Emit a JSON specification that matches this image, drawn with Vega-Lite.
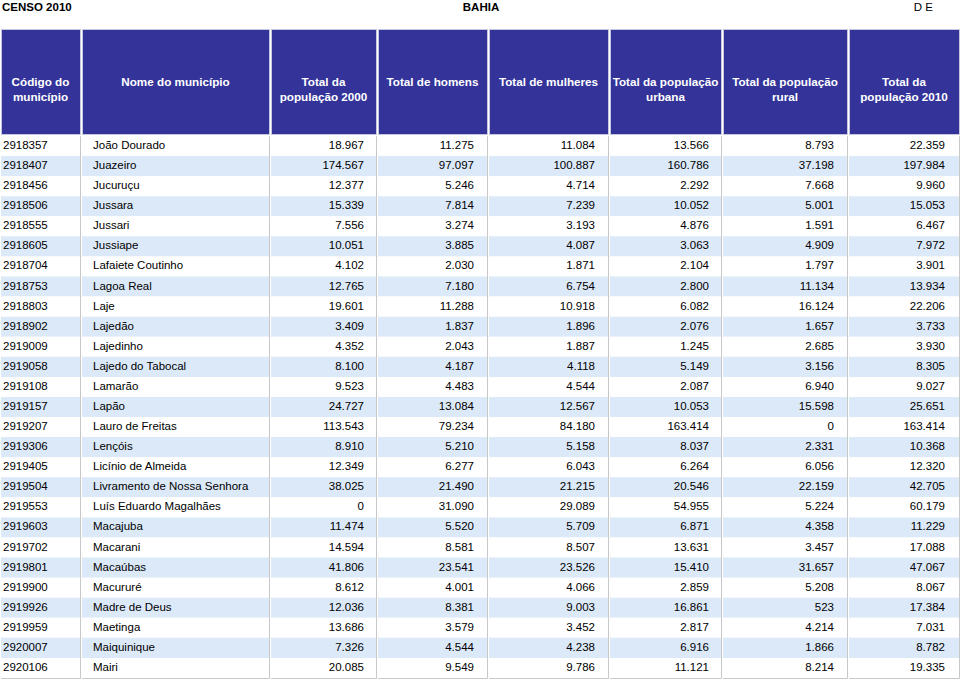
{
  "$schema": "https://vega.github.io/schema/vega-lite/v6.json",
  "padding": 0,
  "background": "white",
  "datasets": {
    "rows": [
      {"codigo": "2918357", "nome": "João Dourado", "pop2000": 18967, "homens": 11275, "mulheres": 11084, "urbana": 13566, "rural": 8793, "pop2010": 22359},
      {"codigo": "2918407", "nome": "Juazeiro", "pop2000": 174567, "homens": 97097, "mulheres": 100887, "urbana": 160786, "rural": 37198, "pop2010": 197984},
      {"codigo": "2918456", "nome": "Jucuruçu", "pop2000": 12377, "homens": 5246, "mulheres": 4714, "urbana": 2292, "rural": 7668, "pop2010": 9960},
      {"codigo": "2918506", "nome": "Jussara", "pop2000": 15339, "homens": 7814, "mulheres": 7239, "urbana": 10052, "rural": 5001, "pop2010": 15053},
      {"codigo": "2918555", "nome": "Jussari", "pop2000": 7556, "homens": 3274, "mulheres": 3193, "urbana": 4876, "rural": 1591, "pop2010": 6467},
      {"codigo": "2918605", "nome": "Jussiape", "pop2000": 10051, "homens": 3885, "mulheres": 4087, "urbana": 3063, "rural": 4909, "pop2010": 7972},
      {"codigo": "2918704", "nome": "Lafaiete Coutinho", "pop2000": 4102, "homens": 2030, "mulheres": 1871, "urbana": 2104, "rural": 1797, "pop2010": 3901},
      {"codigo": "2918753", "nome": "Lagoa Real", "pop2000": 12765, "homens": 7180, "mulheres": 6754, "urbana": 2800, "rural": 11134, "pop2010": 13934},
      {"codigo": "2918803", "nome": "Laje", "pop2000": 19601, "homens": 11288, "mulheres": 10918, "urbana": 6082, "rural": 16124, "pop2010": 22206},
      {"codigo": "2918902", "nome": "Lajedão", "pop2000": 3409, "homens": 1837, "mulheres": 1896, "urbana": 2076, "rural": 1657, "pop2010": 3733},
      {"codigo": "2919009", "nome": "Lajedinho", "pop2000": 4352, "homens": 2043, "mulheres": 1887, "urbana": 1245, "rural": 2685, "pop2010": 3930},
      {"codigo": "2919058", "nome": "Lajedo do Tabocal", "pop2000": 8100, "homens": 4187, "mulheres": 4118, "urbana": 5149, "rural": 3156, "pop2010": 8305},
      {"codigo": "2919108", "nome": "Lamarão", "pop2000": 9523, "homens": 4483, "mulheres": 4544, "urbana": 2087, "rural": 6940, "pop2010": 9027},
      {"codigo": "2919157", "nome": "Lapão", "pop2000": 24727, "homens": 13084, "mulheres": 12567, "urbana": 10053, "rural": 15598, "pop2010": 25651},
      {"codigo": "2919207", "nome": "Lauro de Freitas", "pop2000": 113543, "homens": 79234, "mulheres": 84180, "urbana": 163414, "rural": 0, "pop2010": 163414},
      {"codigo": "2919306", "nome": "Lençóis", "pop2000": 8910, "homens": 5210, "mulheres": 5158, "urbana": 8037, "rural": 2331, "pop2010": 10368},
      {"codigo": "2919405", "nome": "Licínio de Almeida", "pop2000": 12349, "homens": 6277, "mulheres": 6043, "urbana": 6264, "rural": 6056, "pop2010": 12320},
      {"codigo": "2919504", "nome": "Livramento de Nossa Senhora", "pop2000": 38025, "homens": 21490, "mulheres": 21215, "urbana": 20546, "rural": 22159, "pop2010": 42705},
      {"codigo": "2919553", "nome": "Luís Eduardo Magalhães", "pop2000": 0, "homens": 31090, "mulheres": 29089, "urbana": 54955, "rural": 5224, "pop2010": 60179},
      {"codigo": "2919603", "nome": "Macajuba", "pop2000": 11474, "homens": 5520, "mulheres": 5709, "urbana": 6871, "rural": 4358, "pop2010": 11229},
      {"codigo": "2919702", "nome": "Macarani", "pop2000": 14594, "homens": 8581, "mulheres": 8507, "urbana": 13631, "rural": 3457, "pop2010": 17088},
      {"codigo": "2919801", "nome": "Macaúbas", "pop2000": 41806, "homens": 23541, "mulheres": 23526, "urbana": 15410, "rural": 31657, "pop2010": 47067},
      {"codigo": "2919900", "nome": "Macururé", "pop2000": 8612, "homens": 4001, "mulheres": 4066, "urbana": 2859, "rural": 5208, "pop2010": 8067},
      {"codigo": "2919926", "nome": "Madre de Deus", "pop2000": 12036, "homens": 8381, "mulheres": 9003, "urbana": 16861, "rural": 523, "pop2010": 17384},
      {"codigo": "2919959", "nome": "Maetinga", "pop2000": 13686, "homens": 3579, "mulheres": 3452, "urbana": 2817, "rural": 4214, "pop2010": 7031},
      {"codigo": "2920007", "nome": "Maiquinique", "pop2000": 7326, "homens": 4544, "mulheres": 4238, "urbana": 6916, "rural": 1866, "pop2010": 8782},
      {"codigo": "2920106", "nome": "Mairi", "pop2000": 20085, "homens": 9549, "mulheres": 9786, "urbana": 11121, "rural": 8214, "pop2010": 19335}
    ]
  },
  "spacing": 14,
  "vconcat": [
    {
      "width": 960,
      "height": 14,
      "data": {"values": [{"esq": "CENSO 2010", "centro": "BAHIA", "dir": "D E"}]},
      "layer": [
        {"mark": {"type": "text", "align": "left", "fontWeight": "bold", "fontSize": 11.5, "dx": 1, "dy": 1}, "encoding": {"x": {"value": 0}, "text": {"field": "esq", "type": "nominal"}}},
        {"mark": {"type": "text", "align": "center", "fontWeight": "bold", "fontSize": 11.5, "dy": 1}, "encoding": {"text": {"field": "centro", "type": "nominal"}}},
        {"mark": {"type": "text", "align": "right", "fontSize": 11.5, "dx": -28, "dy": 1}, "encoding": {"x": {"value": "width"}, "text": {"field": "dir", "type": "nominal"}}}
      ]
    },
    {
      "spacing": 0,
      "hconcat": [
        {"spacing": 0, "vconcat": [
          {"width": 79, "height": 105, "view": {"fill": "#333399", "stroke": "#c5c7de"}, "data": {"values": [{"t": "Código do\nmunicípio"}]}, "mark": {"type": "text", "color": "white", "fontWeight": "bold", "fontSize": 11.7, "lineBreak": "\n", "lineHeight": 15}, "encoding": {"text": {"field": "t", "type": "nominal"}}},
          {"width": 79, "height": 542, "view": {"stroke": "#c8c8c8"}, "data": {"name": "rows"},
           "encoding": {"y": {"field": "codigo", "type": "nominal", "axis": null, "scale": {"paddingInner": 0, "paddingOuter": 0}}},
           "layer": [
             {"mark": {"type": "rect"}, "encoding": {"color": {"field": "codigo", "type": "nominal", "legend": null, "scale": {"range": ["#ffffff", "#dce9f9"]}}}},
             {"mark": {"type": "text", "align": "left", "dx": 2, "fontSize": 11.5, "color": "#000000"}, "encoding": {"x": {"value": 0}, "text": {"field": "codigo", "type": "nominal"}}}
           ]}
        ]},
        {"spacing": 0, "vconcat": [
          {"width": 187, "height": 105, "view": {"fill": "#333399", "stroke": "#c5c7de"}, "data": {"values": [{"t": "Nome do município"}]}, "mark": {"type": "text", "color": "white", "fontWeight": "bold", "fontSize": 11.7, "lineBreak": "\n", "lineHeight": 15}, "encoding": {"text": {"field": "t", "type": "nominal"}}},
          {"width": 187, "height": 542, "view": {"stroke": "#c8c8c8"}, "data": {"name": "rows"},
           "encoding": {"y": {"field": "codigo", "type": "nominal", "axis": null, "scale": {"paddingInner": 0, "paddingOuter": 0}}},
           "layer": [
             {"mark": {"type": "rect"}, "encoding": {"color": {"field": "codigo", "type": "nominal", "legend": null, "scale": {"range": ["#ffffff", "#dce9f9"]}}}},
             {"mark": {"type": "text", "align": "left", "dx": 11, "fontSize": 11.5, "color": "#000000"}, "encoding": {"x": {"value": 0}, "text": {"field": "nome", "type": "nominal"}}}
           ]}
        ]},
        {"spacing": 0, "vconcat": [
          {"width": 105, "height": 105, "view": {"fill": "#333399", "stroke": "#c5c7de"}, "data": {"values": [{"t": "Total da\npopulação 2000"}]}, "mark": {"type": "text", "color": "white", "fontWeight": "bold", "fontSize": 11.7, "lineBreak": "\n", "lineHeight": 15}, "encoding": {"text": {"field": "t", "type": "nominal"}}},
          {"width": 105, "height": 542, "view": {"stroke": "#c8c8c8"}, "data": {"name": "rows"},
           "encoding": {"y": {"field": "codigo", "type": "nominal", "axis": null, "scale": {"paddingInner": 0, "paddingOuter": 0}}},
           "layer": [
             {"mark": {"type": "rect"}, "encoding": {"color": {"field": "codigo", "type": "nominal", "legend": null, "scale": {"range": ["#ffffff", "#dce9f9"]}}}},
             {"mark": {"type": "text", "align": "right", "dx": -12, "fontSize": 11.5, "color": "#000000"}, "encoding": {"x": {"value": "width"}, "text": {"field": "pop2000", "type": "quantitative", "format": ",d"}}}
           ]}
        ]},
        {"spacing": 0, "vconcat": [
          {"width": 109, "height": 105, "view": {"fill": "#333399", "stroke": "#c5c7de"}, "data": {"values": [{"t": "Total de homens"}]}, "mark": {"type": "text", "color": "white", "fontWeight": "bold", "fontSize": 11.7, "lineBreak": "\n", "lineHeight": 15}, "encoding": {"text": {"field": "t", "type": "nominal"}}},
          {"width": 109, "height": 542, "view": {"stroke": "#c8c8c8"}, "data": {"name": "rows"},
           "encoding": {"y": {"field": "codigo", "type": "nominal", "axis": null, "scale": {"paddingInner": 0, "paddingOuter": 0}}},
           "layer": [
             {"mark": {"type": "rect"}, "encoding": {"color": {"field": "codigo", "type": "nominal", "legend": null, "scale": {"range": ["#ffffff", "#dce9f9"]}}}},
             {"mark": {"type": "text", "align": "right", "dx": -13, "fontSize": 11.5, "color": "#000000"}, "encoding": {"x": {"value": "width"}, "text": {"field": "homens", "type": "quantitative", "format": ",d"}}}
           ]}
        ]},
        {"spacing": 0, "vconcat": [
          {"width": 119, "height": 105, "view": {"fill": "#333399", "stroke": "#c5c7de"}, "data": {"values": [{"t": "Total de mulheres"}]}, "mark": {"type": "text", "color": "white", "fontWeight": "bold", "fontSize": 11.7, "lineBreak": "\n", "lineHeight": 15}, "encoding": {"text": {"field": "t", "type": "nominal"}}},
          {"width": 119, "height": 542, "view": {"stroke": "#c8c8c8"}, "data": {"name": "rows"},
           "encoding": {"y": {"field": "codigo", "type": "nominal", "axis": null, "scale": {"paddingInner": 0, "paddingOuter": 0}}},
           "layer": [
             {"mark": {"type": "rect"}, "encoding": {"color": {"field": "codigo", "type": "nominal", "legend": null, "scale": {"range": ["#ffffff", "#dce9f9"]}}}},
             {"mark": {"type": "text", "align": "right", "dx": -13, "fontSize": 11.5, "color": "#000000"}, "encoding": {"x": {"value": "width"}, "text": {"field": "mulheres", "type": "quantitative", "format": ",d"}}}
           ]}
        ]},
        {"spacing": 0, "vconcat": [
          {"width": 111, "height": 105, "view": {"fill": "#333399", "stroke": "#c5c7de"}, "data": {"values": [{"t": "Total da população\nurbana"}]}, "mark": {"type": "text", "color": "white", "fontWeight": "bold", "fontSize": 11.7, "lineBreak": "\n", "lineHeight": 15}, "encoding": {"text": {"field": "t", "type": "nominal"}}},
          {"width": 111, "height": 542, "view": {"stroke": "#c8c8c8"}, "data": {"name": "rows"},
           "encoding": {"y": {"field": "codigo", "type": "nominal", "axis": null, "scale": {"paddingInner": 0, "paddingOuter": 0}}},
           "layer": [
             {"mark": {"type": "rect"}, "encoding": {"color": {"field": "codigo", "type": "nominal", "legend": null, "scale": {"range": ["#ffffff", "#dce9f9"]}}}},
             {"mark": {"type": "text", "align": "right", "dx": -12, "fontSize": 11.5, "color": "#000000"}, "encoding": {"x": {"value": "width"}, "text": {"field": "urbana", "type": "quantitative", "format": ",d"}}}
           ]}
        ]},
        {"spacing": 0, "vconcat": [
          {"width": 124, "height": 105, "view": {"fill": "#333399", "stroke": "#c5c7de"}, "data": {"values": [{"t": "Total da população\nrural"}]}, "mark": {"type": "text", "color": "white", "fontWeight": "bold", "fontSize": 11.7, "lineBreak": "\n", "lineHeight": 15}, "encoding": {"text": {"field": "t", "type": "nominal"}}},
          {"width": 124, "height": 542, "view": {"stroke": "#c8c8c8"}, "data": {"name": "rows"},
           "encoding": {"y": {"field": "codigo", "type": "nominal", "axis": null, "scale": {"paddingInner": 0, "paddingOuter": 0}}},
           "layer": [
             {"mark": {"type": "rect"}, "encoding": {"color": {"field": "codigo", "type": "nominal", "legend": null, "scale": {"range": ["#ffffff", "#dce9f9"]}}}},
             {"mark": {"type": "text", "align": "right", "dx": -13, "fontSize": 11.5, "color": "#000000"}, "encoding": {"x": {"value": "width"}, "text": {"field": "rural", "type": "quantitative", "format": ",d"}}}
           ]}
        ]},
        {"spacing": 0, "vconcat": [
          {"width": 110, "height": 105, "view": {"fill": "#333399", "stroke": "#c5c7de"}, "data": {"values": [{"t": "Total da\npopulação 2010"}]}, "mark": {"type": "text", "color": "white", "fontWeight": "bold", "fontSize": 11.7, "lineBreak": "\n", "lineHeight": 15}, "encoding": {"text": {"field": "t", "type": "nominal"}}},
          {"width": 110, "height": 542, "view": {"stroke": "#c8c8c8"}, "data": {"name": "rows"},
           "encoding": {"y": {"field": "codigo", "type": "nominal", "axis": null, "scale": {"paddingInner": 0, "paddingOuter": 0}}},
           "layer": [
             {"mark": {"type": "rect"}, "encoding": {"color": {"field": "codigo", "type": "nominal", "legend": null, "scale": {"range": ["#ffffff", "#dce9f9"]}}}},
             {"mark": {"type": "text", "align": "right", "dx": -14, "fontSize": 11.5, "color": "#000000"}, "encoding": {"x": {"value": "width"}, "text": {"field": "pop2010", "type": "quantitative", "format": ",d"}}}
           ]}
        ]}
      ]
    }
  ],
  "config": {
    "font": "Liberation Sans",
    "view": {"stroke": null},
    "text": {"font": "Liberation Sans"},
    "locale": {"number": {"decimal": ",", "thousands": ".", "grouping": [3], "currency": ["R$", ""]}}
  }
}
